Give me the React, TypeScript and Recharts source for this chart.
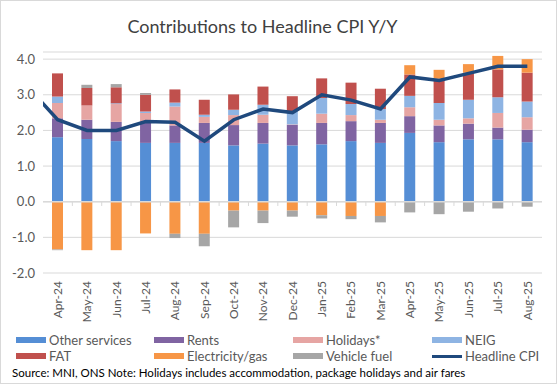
import React from 'react'
import {
  ComposedChart,
  Bar,
  Line,
  XAxis,
  YAxis,
  CartesianGrid,
  ReferenceLine,
} from 'recharts'

const months = [
  'Apr-24', 'May-24', 'Jun-24', 'Jul-24', 'Aug-24', 'Sep-24', 'Oct-24', 'Nov-24', 'Dec-24',
  'Jan-25', 'Feb-25', 'Mar-25', 'Apr-25', 'May-25', 'Jun-25', 'Jul-25', 'Aug-25',
]
const otherServices = [1.81, 1.76, 1.7, 1.65, 1.65, 1.65, 1.58, 1.63, 1.58, 1.61, 1.7, 1.65, 1.93, 1.67, 1.75, 1.75, 1.67]
const rents = [0.53, 0.54, 0.54, 0.56, 0.49, 0.56, 0.57, 0.58, 0.58, 0.6, 0.56, 0.56, 0.47, 0.47, 0.44, 0.33, 0.35]
const holidays = [0.43, 0.4, 0.5, 0.28, 0.53, 0.17, 0.28, 0.23, 0.01, 0.26, 0.17, 0.09, 0.25, 0.16, 0.15, 0.41, 0.35]
const neig = [0.18, 0.0, 0.02, 0.04, 0.11, 0.06, 0.15, 0.28, 0.37, 0.44, 0.31, 0.3, 0.32, 0.47, 0.52, 0.44, 0.44]
const fat = [0.65, 0.49, 0.45, 0.47, 0.37, 0.42, 0.43, 0.51, 0.42, 0.55, 0.6, 0.57, 0.6, 0.68, 0.76, 0.78, 0.81]
const electricityGas = [-1.34, -1.36, -1.36, -0.89, -0.9, -0.9, -0.25, -0.25, -0.25, -0.38, -0.4, -0.4, 0.26, 0.25, 0.24, 0.38, 0.38]
const vehicleFuel = [-0.02, 0.09, 0.09, 0.05, -0.12, -0.35, -0.47, -0.35, -0.17, -0.09, -0.09, -0.18, -0.3, -0.35, -0.28, -0.19, -0.14]
// headline line starts one month earlier (Mar-24), clipped at the plot edge
const headlineCpi = [3.2, 2.3, 2.0, 2.0, 2.25, 2.23, 1.7, 2.3, 2.6, 2.5, 3.0, 2.85, 2.6, 3.5, 3.4, 3.6, 3.8, 3.8]
const yTicks = [-2, -1, 0, 1, 2, 3, 4]

const series = [
  { key: 'other', name: 'Other services', values: otherServices, color: '#558ED5' },
  { key: 'rents', name: 'Rents', values: rents, color: '#8064A2' },
  { key: 'holidays', name: 'Holidays*', values: holidays, color: '#E6A5A3' },
  { key: 'neig', name: 'NEIG', values: neig, color: '#8EB4E3' },
  { key: 'fat', name: 'FAT', values: fat, color: '#C0504D' },
  { key: 'elec', name: 'Electricity/gas', values: electricityGas, color: '#F79646' },
  { key: 'fuel', name: 'Vehicle fuel', values: vehicleFuel, color: '#A6A6A6' },
]
const lineColor = '#1F497D'

const data = months.map((m, i) => {
  const row: Record<string, any> = { month: m }
  series.forEach((s) => (row[s.key] = s.values[i]))
  return row
})
const lineData = headlineCpi.map((v, i) => ({ idx: i - 1, cpi: v }))

const font = 'Lato, "Liberation Sans", Arial, sans-serif'

const MonthTick = (props: any) => {
  const { x, y, payload } = props
  return (
    <text
      x={x}
      y={y}
      transform={`rotate(-90, ${x}, ${y})`}
      textAnchor="end"
      dy="0.35em"
      fontSize={12}
      fill="#595959"
      fontFamily={font}
    >
      {payload.value}
    </text>
  )
}

const legendCols = [16, 154, 293, 432]
const legendItems = [...series.map((s) => ({ name: s.name, color: s.color, line: false })), { name: 'Headline CPI', color: lineColor, line: true }]

export default function App() {
  return (
    <div
      style={{
        position: 'absolute',
        left: 0,
        top: 0,
        width: 557,
        height: 384,
        background: '#fff',
        fontFamily: font,
        boxSizing: 'border-box',
        border: '1px solid #d9d9d9',
      }}
    >
      <div
        style={{
          position: 'absolute',
          top: 14,
          left: 0,
          width: 523,
          textAlign: 'center',
          fontSize: 18,
          color: '#404040',
        }}
      >
        Contributions to Headline CPI Y/Y
      </div>
      <div style={{ position: 'absolute', left: -1, top: -1 }}>
        <ComposedChart
          width={557}
          height={330}
          data={data}
          stackOffset="sign"
          margin={{ top: 52, right: 15, bottom: 0, left: 0 }}
        >
          <CartesianGrid vertical={false} stroke="#d9d9d9" />
          <XAxis
            xAxisId="cat"
            dataKey="month"
            axisLine={false}
            tickLine={false}
            interval={0}
            height={57}
            tick={<MonthTick />}
          />
          <XAxis
            xAxisId="num"
            type="number"
            dataKey="idx"
            domain={[-0.5, months.length - 0.5]}
            allowDataOverflow
            hide
          />
          <YAxis
            domain={[-2, 4.2]}
            ticks={yTicks}
            width={43}
            axisLine={false}
            tickLine={false}
            tickFormatter={(v: number) => v.toFixed(1)}
            tick={{ fontSize: 13, fill: '#595959', fontFamily: font }}
          />
          <ReferenceLine xAxisId="cat" y={0} stroke="#d9d9d9" strokeWidth={1.5} />
          {months.slice(0, -1).map((m, i) => (
            <ReferenceLine
              key={m}
              xAxisId="num"
              segment={[
                { x: i + 0.5, y: 0 },
                { x: i + 0.5, y: -0.12 },
              ]}
              stroke="#d9d9d9"
            />
          ))}
          {series.map((s) => (
            <Bar
              key={s.key}
              xAxisId="cat"
              dataKey={s.key}
              name={s.name}
              stackId="a"
              fill={s.color}
              barSize={11}
              isAnimationActive={false}
            />
          ))}
          <Line
            xAxisId="num"
            data={lineData}
            dataKey="cpi"
            name="Headline CPI"
            stroke={lineColor}
            strokeWidth={3.5}
            dot={false}
            isAnimationActive={false}
          />
        </ComposedChart>
      </div>
      {legendItems.map((it, i) => {
        const col = i % 4
        const row = Math.floor(i / 4)
        return (
          <div
            key={it.name}
            style={{
              position: 'absolute',
              left: legendCols[col] - 1,
              top: 331 + row * 16,
              height: 16,
              display: 'flex',
              alignItems: 'center',
              fontSize: 13,
              color: '#595959',
              whiteSpace: 'nowrap',
            }}
          >
            <span
              style={{
                display: 'inline-block',
                width: 30,
                height: it.line ? 3 : 6,
                background: it.color,
                marginRight: 3,
              }}
            />
            {it.name}
          </div>
        )
      })}
      <div
        style={{
          position: 'absolute',
          left: 11,
          top: 365,
          fontSize: 11.5,
          color: '#000',
          whiteSpace: 'nowrap',
        }}
      >
        Source: MNI, ONS Note: Holidays includes accommodation, package holidays and air fares
      </div>
    </div>
  )
}
